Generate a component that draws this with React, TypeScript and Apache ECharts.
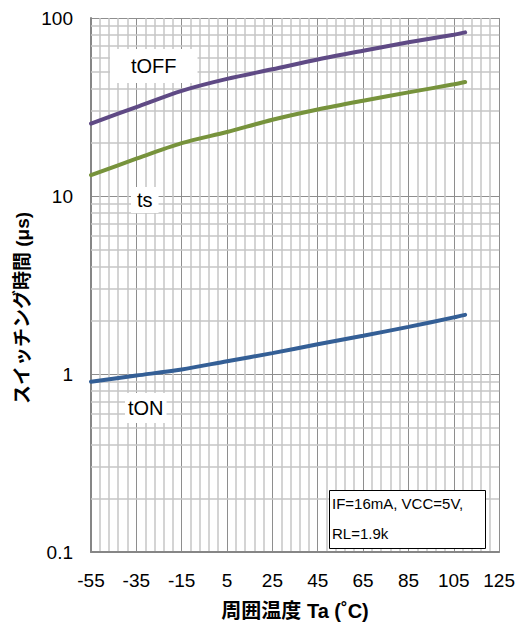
import React, { useEffect, useRef } from "react";
import * as echarts from "echarts";

// Ambient temperature (°C)
const temps = [-55, -35, -15, 5, 25, 45, 65, 85, 105, 110];
// Switching times (µs)
const tOFF = [25.5, 31.6, 39, 45.5, 51.5, 58.5, 65.5, 73, 80.5, 83];
const ts = [13.1, 16.2, 19.8, 22.9, 26.8, 30.6, 34.3, 38.2, 42.4, 43.7];
const tON = [0.905, 0.98, 1.06, 1.18, 1.31, 1.47, 1.64, 1.84, 2.08, 2.15];

const xTickLabels = ["-55", "-35", "-15", "5", "25", "45", "65", "85", "105", "125"];
const yMinorValues = [0.2, 0.3, 0.4, 0.5, 0.6, 0.7, 0.8, 0.9, 2, 3, 4, 5, 6, 7, 8, 9, 20, 30, 40, 50, 60, 70, 80, 90];

const X_MIN = -55;
const X_MAX = 125;

const FONT = "'Liberation Sans', Arial, 'Noto Sans CJK JP', sans-serif";

export default function App() {
  const ref = useRef<HTMLDivElement>(null);

  useEffect(() => {
    if (!ref.current) return;
    const chart = echarts.init(ref.current, undefined, { renderer: "svg" });

    const toPts = (vals: number[]) => temps.map((t, i) => [t - X_MIN, vals[i]]);

    const lineSeries = (name: string, vals: number[], color: string) => ({
      name,
      type: "line",
      data: toPts(vals),
      smooth: 0.3,
      showSymbol: false,
      symbol: "none",
      z: 5,
      lineStyle: { color, width: 4, cap: "round" },
    });

    const boxLabel = (text: string, left: number, top: number, padding: number[]) => ({
      type: "text",
      left,
      top,
      z: 10,
      style: {
        text,
        fontSize: 20,
        fontFamily: FONT,
        fill: "#000",
        backgroundColor: "#fff",
        padding,
      },
    });

    chart.setOption({
      animation: false,
      backgroundColor: "#ffffff",
      grid: { left: 91, right: 16, top: 18, bottom: 68, containLabel: false },
      xAxis: {
        type: "value",
        min: 0,
        max: X_MAX - X_MIN,
        interval: 20,
        axisLine: { show: true, lineStyle: { color: "#868686", width: 2 } },
        axisTick: { show: false },
        axisLabel: {
          fontSize: 19,
          color: "#000",
          fontFamily: FONT,
          margin: 19,
          formatter: (v: number) => xTickLabels[Math.round(v / 20)] ?? "",
        },
        splitLine: { show: true, lineStyle: { color: "#8e8e8e", width: 1 } },
        minorTick: { show: false, splitNumber: 5 },
        minorSplitLine: { show: true, lineStyle: { color: "#c6c6c6", width: 1.5 } },
        name: "周囲温度 Ta (˚C)",
        nameLocation: "middle",
        nameGap: 49,
        nameTextStyle: { fontSize: 20, fontWeight: "bold", color: "#000", fontFamily: FONT },
      },
      yAxis: {
        type: "log",
        logBase: 10,
        min: 0.1,
        max: 100,
        splitNumber: 3,
        axisLine: { show: true, lineStyle: { color: "#868686", width: 2 } },
        axisTick: { show: false },
        axisLabel: {
          fontSize: 19,
          color: "#000",
          fontFamily: FONT,
          margin: 18,
          formatter: (v: number) => String(v),
        },
        splitLine: { show: true, lineStyle: { color: "#8e8e8e", width: 1 } },
      },
      series: [
        {
          name: "minor",
          type: "line",
          data: [[0, 1]],
          showSymbol: false,
          symbol: "none",
          lineStyle: { opacity: 0 },
          silent: true,
          z: 1,
          markLine: {
            silent: true,
            symbol: "none",
            label: { show: false },
            lineStyle: { color: "#c6c6c6", width: 1.5, type: "solid" },
            data: yMinorValues.map((v) => ({ yAxis: v })),
          },
        },
        lineSeries("tOFF", tOFF, "#5f4a85"),
        lineSeries("ts", ts, "#77933c"),
        lineSeries("tON", tON, "#345f96"),
      ],
      graphic: [
        boxLabel("tOFF", 110, 49, [7, 21, 7, 21]),
        boxLabel("ts", 131, 187, [3, 6, 3, 6]),
        boxLabel("tON", 125, 393, [5, 3, 5, 3]),
        {
          type: "rect",
          z: 10,
          shape: { x: 329.5, y: 490.5, width: 156, height: 58 },
          style: { fill: "#fff", stroke: "#000", lineWidth: 1 },
        },
        {
          type: "text",
          x: 332,
          y: 488,
          z: 11,
          style: {
            text: "IF=16mA, VCC=5V,\nRL=1.9k",
            fontSize: 15,
            lineHeight: 30,
            fontFamily: FONT,
            fill: "#000",
            verticalAlign: "top",
          },
        },
        {
          type: "text",
          x: 22,
          y: 308,
          rotation: Math.PI / 2,
          z: 10,
          style: {
            text: "スイッチング時間 (μs)",
            fontSize: 19,
            fontWeight: "bold",
            fontFamily: FONT,
            fill: "#000",
            align: "center",
            verticalAlign: "middle",
          },
        },
      ],
    });

    return () => chart.dispose();
  }, []);

  return (
    <div
      ref={ref}
      style={{ position: "absolute", left: 0, top: 0, width: 518, height: 626 }}
    />
  );
}
